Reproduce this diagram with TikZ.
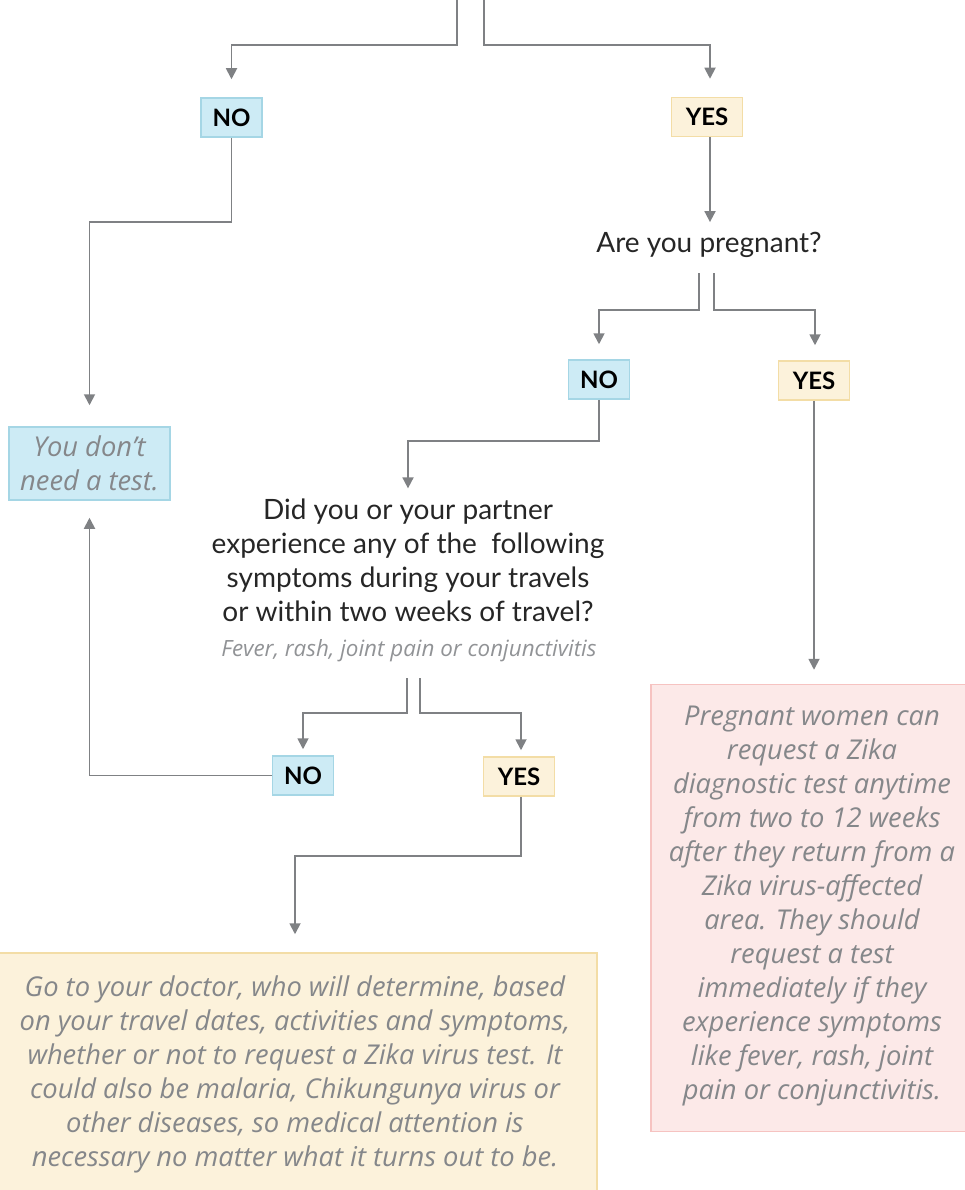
\documentclass[tikz,border=0pt]{standalone}
\usepackage{fontspec}
\setmainfont{Lato}
\newfontfamily\itfont{Open Sans}
\usetikzlibrary{arrows.meta}

\definecolor{linegray}{HTML}{7F8184}
\definecolor{txtgray}{HTML}{85878A}
\definecolor{nofill}{HTML}{CDEBF5}
\definecolor{nodraw}{HTML}{A5D6E5}
\definecolor{yesfill}{HTML}{FCF2DB}
\definecolor{yesdraw}{HTML}{F3DDA6}
\definecolor{pinkfill}{HTML}{FCE9E8}
\definecolor{pinkdraw}{HTML}{F6C3C1}

\tikzset{
  flowline/.style={draw=linegray, line width=1.8pt,
    -{Triangle[width=11pt,length=11pt]}, shorten >=18pt},
  nobox/.style={draw=nodraw, fill=nofill, line width=1.5pt,
    font=\fontsize{24}{26}\selectfont\bfseries, minimum width=61pt,
    minimum height=39pt, inner sep=0pt},
  yesbox/.style={nobox, draw=yesdraw, fill=yesfill, minimum width=71pt},
  question/.style={align=center, inner sep=4pt,
    font=\fontsize{28}{34}\selectfont, text=black!85},
  answer/.style={align=center, inner sep=0pt, line width=1.5pt,
    text=txtgray, font=\itfont\itshape\fontsize{27.3}{34}\selectfont}
}

\begin{document}
\begin{tikzpicture}[x=1pt,y=-1pt]
\useasboundingbox (0,0) rectangle (965,1190);

% first answer
\coordinate (topL) at (457,0);
\coordinate (topR) at (484,0);
\node[nobox] (no1) at (231.5,117.5) {NO};
\node[yesbox] (yes1) at (707,117) {YES};
\node[answer, draw=nodraw, fill=nofill, minimum width=161pt,
  minimum height=73pt] (test) at (89.5,463.5) {You don’t\\need a test.};

% pregnancy
\node[question] (q1) at (709,245) {Are you pregnant?};
\coordinate (q1L) at (699,273);
\coordinate (q1R) at (714,273);
\node[nobox] (no2) at (599,379.5) {NO};
\node[yesbox] (yes2) at (814,380.5) {YES};
\node[answer, draw=pinkdraw, fill=pinkfill, minimum width=316pt,
  minimum height=447pt] (preg) at (809,908) {};
\node[answer] at (812,906) {Pregnant women can\\request a Zika\\
  diagnostic test anytime\\from two to 12 weeks\\after they return from a\\
  Zika virus-affected\\area. They should\\request a test\\
  immediately if they\\experience symptoms\\like fever, rash, joint\\
  pain or conjunctivitis.};

% symptoms
\node[question] (q2) at (408,560) {Did you or your partner\\
  experience any of the\ \ following\\symptoms during your travels\\
  or within two weeks of travel?};
\node[text=txtgray!90, font=\itfont\itshape\fontsize{22.4}{24}\selectfont]
  (sympt) at (409,651) {Fever, rash, joint pain or conjunctivitis};
\coordinate (q2L) at (407,678);
\coordinate (q2R) at (420,678);
\node[nobox] (no3) at (303,775.5) {NO};
\node[yesbox] (yes3) at (519,776.5) {YES};
\node[answer, draw=yesdraw, fill=yesfill, minimum width=598pt,
  minimum height=242pt] (doc) at (298,1074) {};
\node[answer] at (295,1074) {Go to your doctor, who will determine, based\\
  on your travel dates, activities and symptoms,\\
  whether or not to request a Zika virus test. It\\
  could also be malaria, Chikungunya virus or\\
  other diseases, so medical attention is\\
  necessary no matter what it turns out to be.};

% connectors
\draw[flowline] (topL) -- ++(0,45) -| (no1.north);
\draw[flowline] (topR) -- ++(0,45) -| ([xshift=3pt]yes1.north);
\draw[flowline, shorten >=21pt] (no1.south) -- ++(0,84) -| (test.north);
\draw[flowline, shorten >=6pt] ([xshift=3pt]yes1.south) -- ([xshift=3pt]yes1.south |- q1.north);
\draw[flowline, shorten >=15pt] (q1L) -- ++(0,37) -| (no2.north);
\draw[flowline, shorten >=15pt] (q1R) -- ++(0,37) -| ([xshift=1pt]yes2.north);
\draw[flowline, shorten >=6pt] (no2.south) -- ++(0,41) -| (q2.north);
\draw[flowline, shorten >=14pt] (yes2.south) -- (yes2.south |- preg.north);
\draw[flowline, shorten >=6pt] (q2L) -- ++(0,35) -| (no3.north);
\draw[flowline, shorten >=6pt] (q2R) -- ++(0,35) -| ([xshift=2pt]yes3.north);
\draw[flowline, shorten >=17pt] (no3.west) -| (test.south);
\draw[flowline, shorten >=18pt] ([xshift=2pt]yes3.south) -- ++(0,59) -| ([xshift=-3pt]doc.north);
\end{tikzpicture}
\end{document}
